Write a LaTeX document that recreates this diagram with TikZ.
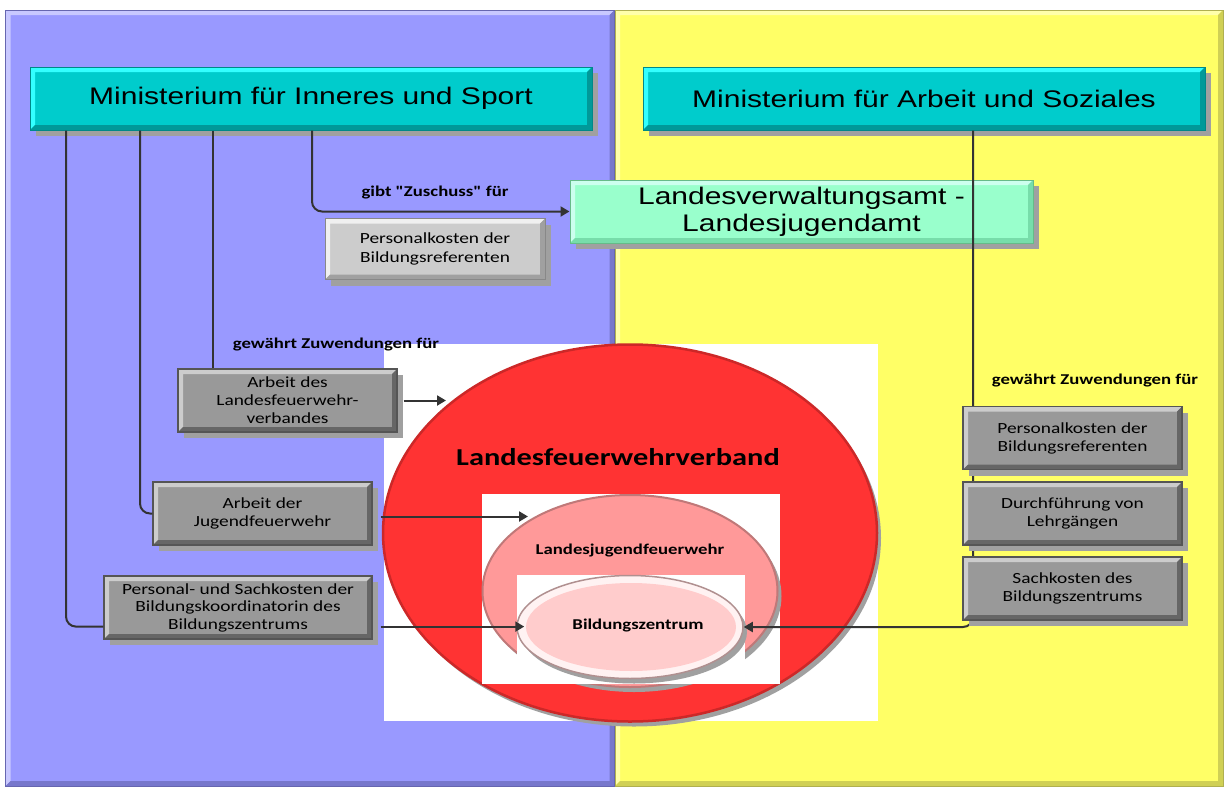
\documentclass[tikz,border=0pt]{standalone}
\usepackage{fontspec}
\setmainfont[FakeStretch=1.25]{Liberation Sans}
\newfontfamily\calfont[FakeStretch=1.25]{Carlito}
\usetikzlibrary{shapes.geometric,arrows.meta,shadows}
\definecolor{pblue}{HTML}{9999FF}
\definecolor{pbluel}{HTML}{C8C8FF}
\definecolor{pblued}{HTML}{7777CC}
\definecolor{pbluee}{HTML}{6666B0}
\definecolor{pyel}{HTML}{FFFF66}
\definecolor{pyell}{HTML}{FFFFAA}
\definecolor{pyeld}{HTML}{D0D055}
\definecolor{pyele}{HTML}{B0B050}
\definecolor{cyf}{HTML}{00CCCC}
\definecolor{cyl}{HTML}{33FFFF}
\definecolor{cyd}{HTML}{009999}
\definecolor{cye}{HTML}{008888}
\definecolor{mgf}{HTML}{99FFCC}
\definecolor{mgl}{HTML}{CCFFEE}
\definecolor{mgd}{HTML}{77DDAA}
\definecolor{mge}{HTML}{66BB88}
\definecolor{gyf}{HTML}{999999}
\definecolor{gyl}{HTML}{CCCCCC}
\definecolor{gyd}{HTML}{666666}
\definecolor{gye}{HTML}{555555}
\definecolor{lgf}{HTML}{CCCCCC}
\definecolor{lgl}{HTML}{F0F0F0}
\definecolor{lgd}{HTML}{A0A0A0}
\definecolor{lge}{HTML}{888888}
\definecolor{redf}{HTML}{FF3333}
\definecolor{rede}{HTML}{CC2828}
\definecolor{pinkf}{HTML}{FF9999}
\definecolor{pinke}{HTML}{C07878}
\definecolor{rosef}{HTML}{FFCCCC}
\definecolor{rosering}{HTML}{FFF2F2}
\definecolor{rosee}{HTML}{B09090}
\definecolor{linec}{HTML}{333333}
\definecolor{shad}{HTML}{A0A0A0}
\begin{document}
\begin{tikzpicture}[x=1pt,y=-1pt,
  bev/.style n args={4}{fill=#1, path picture={
    \fill[#2] (path picture bounding box.south west) -- (path picture bounding box.north west)
      -- (path picture bounding box.north east) -- ([shift={(-#4,-#4)}]path picture bounding box.north east)
      -- ([shift={(#4,-#4)}]path picture bounding box.north west) -- ([shift={(#4,#4)}]path picture bounding box.south west) -- cycle;
    \fill[#3] (path picture bounding box.south west) -- (path picture bounding box.south east)
      -- (path picture bounding box.north east) -- ([shift={(-#4,-#4)}]path picture bounding box.north east)
      -- ([shift={(-#4,#4)}]path picture bounding box.south east) -- ([shift={(#4,#4)}]path picture bounding box.south west) -- cycle;
  }},
  sh/.style={drop shadow={shadow xshift=6pt,shadow yshift=-6pt,fill=shad,opacity=1}},
  esh/.style={drop shadow={shadow xshift=4pt,shadow yshift=-5pt,fill=shad,opacity=1}},
  panel/.style={inner sep=0pt, line width=1pt},
  hdr/.style={bev={cyf}{cyl}{cyd}{5pt}, draw=cye, line width=1pt, minimum width=562pt, minimum height=63pt,
    inner sep=0pt, sh, font=\fontsize{24}{28}\selectfont},
  graybox/.style={bev={gyf}{gyl}{gyd}{5pt}, draw=gye, line width=1.2pt, minimum width=219pt, minimum height=63pt,
    inner sep=0pt, sh, align=center, font=\calfont\fontsize{15.5}{18}\selectfont},
  whitebox/.style={fill=white, inner sep=0pt},
  lbl/.style={inner sep=0pt, font=\calfont\bfseries\fontsize{15}{18}\selectfont},
  conn/.style={draw=linec, line width=2pt, rounded corners=10pt},
  arr/.style={-{Triangle[length=9pt,width=10pt]}},
]
\useasboundingbox (0,0) rectangle (1226,787);
% panels
\node[panel, bev={pblue}{pbluel}{pblued}{5pt}, draw=pbluee, minimum width=609pt, minimum height=776pt] (pl) at (310,398) {};
\node[panel, bev={pyel}{pyell}{pyeld}{5pt}, draw=pyele, minimum width=608pt, minimum height=776pt] (pr) at (919,398) {};
% nested ellipses
\node[whitebox, minimum width=494pt, minimum height=377pt] (wr1) at (631,532.5) {};
\node[ellipse, esh, minimum width=494pt, minimum height=377pt, inner sep=0pt, fill=redf, draw=rede, line width=2.5pt] (lfv) at (630,533) {};
\node[whitebox, minimum width=298pt, minimum height=190pt] (wr2) at (631,589) {};
\node[ellipse, esh, minimum width=295pt, minimum height=192pt, inner sep=0pt, fill=pinkf, draw=pinke, line width=2pt] (ljf) at (630,591) {};
\node[whitebox, minimum width=228pt, minimum height=109pt] (wr3) at (631,629.5) {};
\node[ellipse, esh, minimum width=226pt, minimum height=103pt, inner sep=0pt, fill=rosering, draw=rosee, line width=1.5pt] (bz) at (630,627) {};
\node[ellipse, minimum width=210pt, minimum height=88pt, inner sep=0pt, fill=rosef] (bzi) at (631,627) {};
\node[lbl, font=\calfont\bfseries\fontsize{24.3}{28}\selectfont] (tlfv) at (618,457) {Landesfeuerwehrverband};
\node[lbl] (tljf) at (630,551) {Landesjugendfeuerwehr};
\node[lbl] (tbz) at (638,626) {Bildungszentrum};
% headers
\node[hdr] (minL) at (311,98.5) {Ministerium für Inneres und Sport};
\node[hdr] (minR) at (924,98.5) {Ministerium für Arbeit und Soziales};
\node[bev={mgf}{mgl}{mgd}{5pt}, draw=mge, line width=1pt, minimum width=463pt, minimum height=63pt, inner sep=0pt, sh,
  align=center, font=\fontsize{24}{27}\selectfont] (lva) at (801.5,211.5) {Landesverwaltungsamt -\\Landesjugendamt};
\node[bev={lgf}{lgl}{lgd}{5pt}, draw=lge, line width=1pt, minimum width=220pt, minimum height=61pt, inner sep=0pt, sh,
  align=center, font=\calfont\fontsize{15.5}{18.5}\selectfont] (pk1) at (435,249) {Personalkosten der\\Bildungsreferenten};
% left boxes
\node[graybox] (afv) at (287.5,400.5) {Arbeit des\\Landesfeuerwehr-\\verbandes};
\node[graybox] (ajf) at (262.5,513.5) {Arbeit der\\Jugendfeuerwehr};
\node[graybox, minimum width=268pt, font=\calfont\fontsize{15.5}{17.5}\selectfont] (psk) at (238,607.5) {Personal- und Sachkosten der\\Bildungskoordinatorin des\\Bildungszentrums};
% labels
\node[lbl] (lz) at (435,193) {gibt "Zuschuss" für};
\node[lbl] (lg1) at (336,345) {gewährt Zuwendungen für};
\node[lbl] (lg2) at (1095,381) {gewährt Zuwendungen für};
% connectors
\coordinate (c1) at (66,0);
\coordinate (c2) at (140,0);
\coordinate (c3) at (213,0);
\coordinate (c4) at (312,0);
\coordinate (c5) at (973,0);
\coordinate (t1) at (446,400.5);
\coordinate (t2) at (528,516.5);
\draw[conn] (minL.south -| c1) |- ([yshift=13pt]psk.south west);
\draw[conn] (minL.south -| c2) |- (ajf.west);
\draw[conn] (minL.south -| c3) -- (afv.north -| c3);
\draw[conn,arr] (minL.south -| c4) |- (lva.west);
\draw[conn,arr] ([xshift=6pt]afv.east) -- (t1);
\draw[conn,arr] ([shift={(8pt,-3pt)}]ajf.east) -- (t2);
\draw[conn,arr] ([shift={(8pt,13pt)}]psk.south east) -- ([shift={(8pt,13pt)}]psk.south east -| bz.west);
\draw[conn,arr] (minR.south -| c5) |- (bz.east);
% right boxes
\node[graybox] (rb1) at (1072.5,438) {Personalkosten der\\Bildungsreferenten};
\node[graybox] (rb2) at (1072.5,513.5) {Durchführung von\\Lehrgängen};
\node[graybox] (rb3) at (1072.5,588.5) {Sachkosten des\\Bildungszentrums};
\end{tikzpicture}
\end{document}
